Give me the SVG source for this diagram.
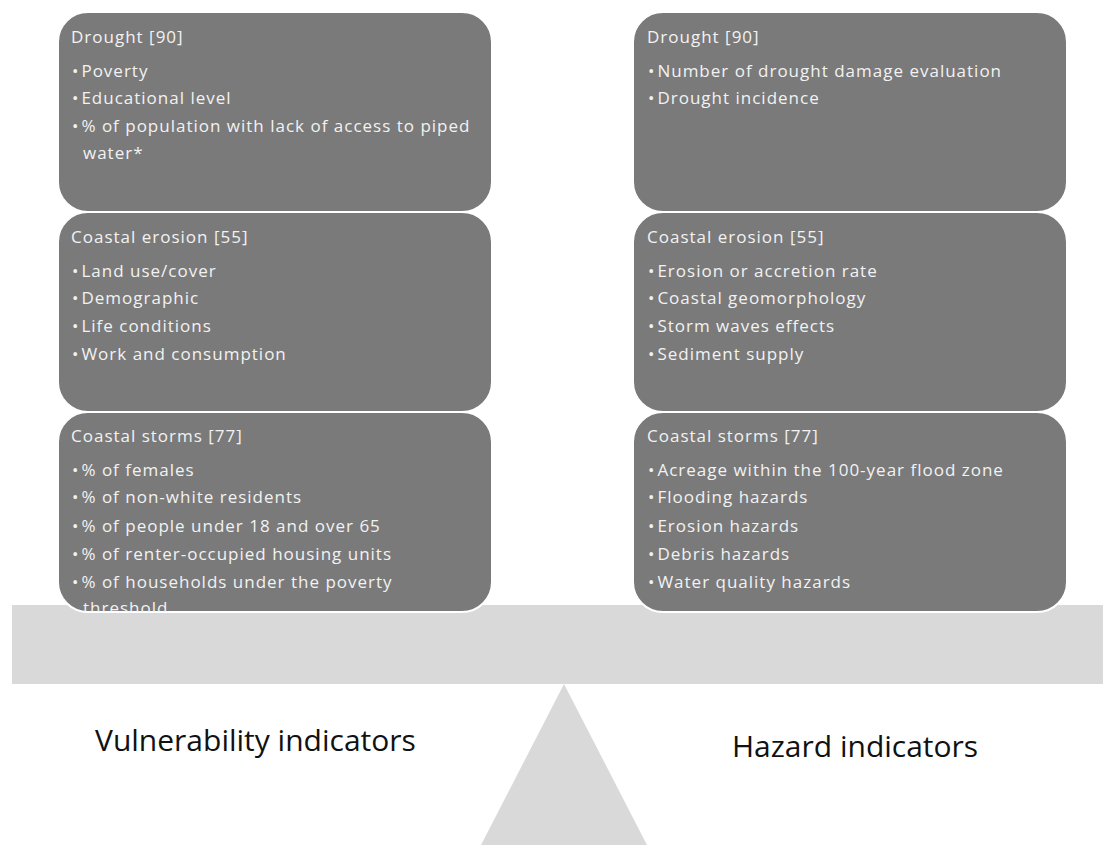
<svg xmlns="http://www.w3.org/2000/svg" width="1103" height="845" viewBox="0 0 1103 845">
<style>
.box{fill:#7a7a7a;stroke:#ffffff;stroke-width:2}
.t{font-family:"Open Sans","Liberation Sans",sans-serif;font-size:17px;letter-spacing:1px;fill:#f2f2f2}
.lbl{font-family:"Open Sans","Liberation Sans",sans-serif;font-size:30px;fill:#111111}
.base{fill:#d9d9d9}
</style>
<defs>
<clipPath id="c1"><rect x="58" y="412" width="434" height="200" rx="30"/></clipPath>
</defs>
<rect class="base" x="12" y="605" width="1091" height="79"/>
<polygon class="base" points="564,684 481,845 647,845"/>
<g id="v-drought">
<rect class="box" x="58" y="12" width="434" height="200" rx="30"/>
<text class="t" x="71" y="43">Drought [90]</text>
<text class="t" x="72" y="77">•<tspan dx="2">Poverty</tspan></text>
<text class="t" x="72" y="104">•<tspan dx="2">Educational level</tspan></text>
<text class="t" x="72" y="132">•<tspan dx="2">% of population with lack of access to piped</tspan></text>
<text class="t" x="83" y="159">water*</text>
</g>
<g id="v-erosion">
<rect class="box" x="58" y="212" width="434" height="200" rx="30"/>
<text class="t" x="71" y="243">Coastal erosion [55]</text>
<text class="t" x="72" y="277">•<tspan dx="2">Land use/cover</tspan></text>
<text class="t" x="72" y="304">•<tspan dx="2">Demographic</tspan></text>
<text class="t" x="72" y="332">•<tspan dx="2">Life conditions</tspan></text>
<text class="t" x="72" y="360">•<tspan dx="2">Work and consumption</tspan></text>
</g>
<g id="v-storms">
<rect class="box" x="58" y="412" width="434" height="200" rx="30"/>
<g clip-path="url(#c1)">
<text class="t" x="71" y="442">Coastal storms [77]</text>
<text class="t" x="72" y="476">•<tspan dx="2">% of females</tspan></text>
<text class="t" x="72" y="503">•<tspan dx="2">% of non-white residents</tspan></text>
<text class="t" x="72" y="532">•<tspan dx="2">% of people under 18 and over 65</tspan></text>
<text class="t" x="72" y="560">•<tspan dx="2">% of renter-occupied housing units</tspan></text>
<text class="t" x="72" y="588">•<tspan dx="2">% of households under the poverty</tspan></text>
<text class="t" x="83" y="614">threshold</text>
</g>
</g>
<g id="h-drought">
<rect class="box" x="633" y="12" width="434" height="200" rx="30"/>
<text class="t" x="647" y="43">Drought [90]</text>
<text class="t" x="648" y="77">•<tspan dx="2">Number of drought damage evaluation</tspan></text>
<text class="t" x="648" y="104">•<tspan dx="2">Drought incidence</tspan></text>
</g>
<g id="h-erosion">
<rect class="box" x="633" y="212" width="434" height="200" rx="30"/>
<text class="t" x="647" y="243">Coastal erosion [55]</text>
<text class="t" x="648" y="277">•<tspan dx="2">Erosion or accretion rate</tspan></text>
<text class="t" x="648" y="304">•<tspan dx="2">Coastal geomorphology</tspan></text>
<text class="t" x="648" y="332">•<tspan dx="2">Storm waves effects</tspan></text>
<text class="t" x="648" y="360">•<tspan dx="2">Sediment supply</tspan></text>
</g>
<g id="h-storms">
<rect class="box" x="633" y="412" width="434" height="200" rx="30"/>
<text class="t" x="647" y="442">Coastal storms [77]</text>
<text class="t" x="648" y="476">•<tspan dx="2">Acreage within the 100-year flood zone</tspan></text>
<text class="t" x="648" y="503">•<tspan dx="2">Flooding hazards</tspan></text>
<text class="t" x="648" y="532">•<tspan dx="2">Erosion hazards</tspan></text>
<text class="t" x="648" y="560">•<tspan dx="2">Debris hazards</tspan></text>
<text class="t" x="648" y="588">•<tspan dx="2">Water quality hazards</tspan></text>
</g>
<g id="labels">
<text class="lbl" x="95" y="751">Vulnerability indicators</text>
<text class="lbl" x="732" y="757">Hazard indicators</text>
</g>
<g id="connectors"></g>
</svg>
